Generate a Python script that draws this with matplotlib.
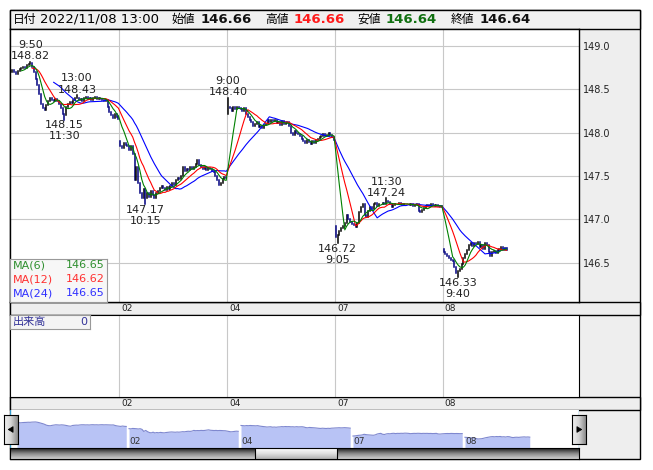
import numpy as np
import pandas as pd
import matplotlib
matplotlib.use("Agg")
import matplotlib.pyplot as plt
from matplotlib.patches import Rectangle, Polygon
from matplotlib.colors import LinearSegmentedColormap
from matplotlib.transforms import offset_copy

plt.rcParams['font.family'] = ['DejaVu Sans', 'Noto Sans CJK JP']

# 5 minute closes, one list per trading day (11/08 stops at 13:00)
day_names = ["01", "02", "04", "07", "08"]
close_01 = [148.72, 148.70, 148.68, 148.71, 148.73, 148.74, 148.76, 148.75, 148.78, 148.79,
            148.80, 148.76, 148.70, 148.62, 148.55, 148.45, 148.33, 148.28, 148.26, 148.32,
            148.36, 148.40, 148.38, 148.36, 148.39, 148.37, 148.33, 148.28, 148.22, 148.20,
            148.30, 148.33, 148.35, 148.34, 148.38, 148.40, 148.40, 148.38, 148.39, 148.37,
            148.40, 148.41, 148.39, 148.40, 148.38, 148.40, 148.41, 148.39, 148.40, 148.39,
            148.38, 148.37, 148.38, 148.30, 148.24, 148.20, 148.17, 148.22, 148.18, 148.16]
close_02 = [147.85, 147.82, 147.88, 147.86, 147.84, 147.80, 147.84, 147.75, 147.45, 147.60,
            147.42, 147.30, 147.25, 147.35, 147.24, 147.30, 147.26, 147.32, 147.28, 147.25,
            147.30, 147.33, 147.36, 147.38, 147.36, 147.34, 147.37, 147.35, 147.38, 147.42,
            147.40, 147.45, 147.48, 147.46, 147.50, 147.60, 147.56, 147.58, 147.57, 147.60,
            147.58, 147.60, 147.64, 147.68, 147.62, 147.60, 147.58, 147.60, 147.57, 147.59,
            147.58, 147.56, 147.55, 147.50, 147.45, 147.40, 147.42, 147.46, 147.49, 147.47]
close_04 = [148.30, 148.28, 148.25, 148.29, 148.27, 148.30, 148.28, 148.27, 148.25, 148.28,
            148.22, 148.18, 148.15, 148.12, 148.08, 148.10, 148.12, 148.06, 148.08, 148.05,
            148.09, 148.10, 148.14, 148.12, 148.15, 148.13, 148.14, 148.11, 148.12, 148.09,
            148.13, 148.10, 148.11, 148.12, 148.08, 148.00, 147.97, 148.02, 148.00, 147.98,
            147.96, 147.93, 147.90, 147.88, 147.91, 147.89, 147.87, 147.90, 147.88, 147.92,
            147.93, 147.95, 147.96, 147.98, 147.96, 147.97, 147.99, 147.97, 147.95, 147.92]
close_07 = [146.80, 146.82, 146.86, 146.90, 146.92, 146.96, 147.05, 147.00, 146.97, 146.95,
            146.93, 146.91, 146.96, 147.08, 147.14, 147.18, 147.05, 147.02, 147.10, 147.14,
            147.12, 147.17, 147.19, 147.15, 147.18, 147.17, 147.19, 147.18, 147.21, 147.20,
            147.18, 147.14, 147.16, 147.18, 147.17, 147.19, 147.18, 147.16, 147.18, 147.17,
            147.18, 147.16, 147.17, 147.15, 147.16, 147.18, 147.10, 147.08, 147.11, 147.13,
            147.15, 147.16, 147.15, 147.17, 147.16, 147.15, 147.16, 147.15, 147.14, 147.15]
close_08 = [146.62, 146.60, 146.58, 146.55, 146.53, 146.52, 146.45, 146.38, 146.40, 146.42,
            146.48, 146.55, 146.60, 146.65, 146.70, 146.72, 146.69, 146.73, 146.71, 146.74,
            146.68, 146.70, 146.66, 146.72, 146.70, 146.62, 146.58, 146.62, 146.63, 146.61,
            146.64, 146.66, 146.68, 146.65, 146.67, 146.64]
day_open = [148.70, 147.90, 148.22, 146.92, 146.66]

# highs / lows written on the chart
mark_bar = [10, 29, 36, 74, 120, 181, 208, 248]
mark_price = [148.82, 148.15, 148.43, 147.17, 148.40, 146.72, 147.24, 146.33]
mark_time = ["9:50", "11:30", "13:00", "10:15", "9:00", "9:05", "11:30", "9:40"]
mark_high = [True, False, True, False, True, False, True, False]

hdr_date = "2022/11/08 13:00"
hdr_ohlc = [146.66, 146.66, 146.64, 146.64]   # open high low close
ma_periods = [6, 12, 24]
ma_last = [146.65, 146.62, 146.65]
volume_last = 0
price_ticks = [146.5, 147.0, 147.5, 148.0, 148.5, 149.0]

W, H = 653, 470
GRAY = '#eeeeee'
GRID = '#c8c8c8'
ma_colors = ['#008000', '#ff0000', '#0000ff']
ma_text = ['#2f8f2f', '#ff3030', '#3030ff']

day_lists = [close_01, close_02, close_04, close_07, close_08]
closes = np.array(sum(day_lists, []))
day_len = [len(d) for d in day_lists]
day_start = np.cumsum([0] + day_len[:-1])
n = len(closes)
bars = np.arange(n)

opens = np.empty(n)
opens[1:] = closes[:-1]
opens[day_start] = day_open
highs = np.maximum(opens, closes)
lows = np.minimum(opens, closes)
for b, p, hi in zip(mark_bar, mark_price, mark_high):
    if hi:
        highs[b] = max(highs[b], p)
    else:
        lows[b] = min(lows[b], p)

fig = plt.figure(figsize=(W / 100, H / 100), dpi=100)


def px_axes(x0, y0, x1, y1, **kw):
    return fig.add_axes([x0 / W, 1 - y1 / H, (x1 - x0) / W, (y1 - y0) / H], **kw)


# frame, header, strips, right panel
bg = px_axes(0, 0, W, H)
bg.set_xlim(0, W)
bg.set_ylim(H, 0)
bg.axis('off')
bg.add_patch(Rectangle((10, 10), 630, 449, fc=GRAY, ec='black', lw=1))
bg.add_patch(Rectangle((10, 10), 630, 19, fc='#f0f0f0', ec='black', lw=1))
for y0, y1 in [(302, 315), (397, 410)]:
    bg.add_patch(Rectangle((10, y0), 630, y1 - y0, fc=GRAY, ec='black', lw=1))

hy = 19.5
bg.text(13, hy, "日付", fontsize=8.5, va='center')
bg.text(40, hy, hdr_date, fontsize=9.5, va='center')
hdr_names = ["始値", "高値", "安値", "終値"]
hdr_colors = ['#111111', '#ff1a1a', '#107010', '#111111']
hdr_x = [172, 265, 357, 451]
for name, val, col, x in zip(hdr_names, hdr_ohlc, hdr_colors, hdr_x):
    bg.text(x, hy, name, fontsize=8.5, va='center')
    bg.text(x + 29, hy, f"{val:.2f}", fontsize=9.5, fontweight='bold', color=col, va='center')

# main price panel
xlim = (-1.3, 315.3)
bounds = day_start[1:] - 0.5
ax = px_axes(10, 29, 579, 302)
ax.set_xlim(*xlim)
ax.set_ylim(146.044, 149.196)
for yv in price_ticks:
    ax.axhline(yv, color=GRID, lw=0.8, zorder=0)
for xb in bounds:
    ax.axvline(xb, color=GRID, lw=0.8, zorder=0)

up = closes >= opens
lc = ax.vlines(bars, lows, highs, colors=np.where(up, '#000000', '#000080'), lw=1.1, zorder=2)
lc.set_capstyle('projecting')
for per, col in reversed(list(zip(ma_periods, ma_colors))):
    ma = pd.Series(closes).rolling(per).mean()
    ax.plot(bars, ma, color=col, lw=0.8, zorder=3)

for b, p, t, hi in zip(mark_bar, mark_price, mark_time, mark_high):
    if hi:
        ax.annotate(f"{t}\n{p:.2f}", (b, p), xytext=(0, 0.5), textcoords='offset points',
                    ha='center', va='bottom', fontsize=8, color='#222222', linespacing=1.15)
    else:
        ax.annotate(f"{p:.2f}\n{t}", (b, p), xytext=(0, -0.5), textcoords='offset points',
                    ha='center', va='top', fontsize=8, color='#222222', linespacing=1.15)

ax.yaxis.tick_right()
ax.set_yticks(price_ticks)
ax.set_yticklabels([f"{v:.1f}" for v in price_ticks])
ax.tick_params(axis='y', length=0, pad=3, labelsize=7, labelcolor='#222222')
ax.set_xticks([])
for s in ax.spines.values():
    s.set_linewidth(1)

lab_tr = offset_copy(ax.get_xaxis_transform(), fig=fig, x=2, y=0, units='dots')
for xb, name in zip(bounds, day_names[1:]):
    ax.text(xb, -6.5 / 273, name, transform=lab_tr, fontsize=6.5, va='center', ha='left',
            color='#222222', clip_on=False)

# MA legend box
lg = px_axes(10, 259, 107, 302)
lg.set_facecolor('#f7f7f7')
lg.set_xticks([])
lg.set_yticks([])
for s in lg.spines.values():
    s.set_edgecolor('#999999')
for i, (per, val, col) in enumerate(zip(ma_periods, ma_last, ma_text)):
    yy = 1 - (6.5 + i * 14) / 43
    lg.text(0.03, yy, f"MA({per})", color=col, fontsize=8, va='center', transform=lg.transAxes)
    lg.text(0.98, yy, f"{val:.2f}", color=col, fontsize=8, va='center', ha='right',
            transform=lg.transAxes)

# volume panel
vax = px_axes(10, 315, 579, 397)
vax.set_xlim(*xlim)
vax.set_ylim(0, 1)
for xb in bounds:
    vax.axvline(xb, color=GRID, lw=0.8, zorder=0)
vax.set_xticks([])
vax.set_yticks([])
vlab_tr = offset_copy(vax.get_xaxis_transform(), fig=fig, x=2, y=0, units='dots')
for xb, name in zip(bounds, day_names[1:]):
    vax.text(xb, -6.5 / 82, name, transform=vlab_tr, fontsize=6.5, va='center', ha='left',
             color='#222222', clip_on=False)

vl = px_axes(10, 315, 90, 329)
vl.set_facecolor('#f4f4f4')
vl.set_xticks([])
vl.set_yticks([])
for s in vl.spines.values():
    s.set_edgecolor('#999999')
vl.text(0.03, 0.5, "出来高", color='#333399', fontsize=8, va='center', transform=vl.transAxes)
vl.text(0.96, 0.5, f"{volume_last}", color='#333399', fontsize=8, va='center', ha='right',
        transform=vl.transAxes)

# navigator
nav = px_axes(10, 410, 579, 448)
nav.set_xlim(-3.8, 303.6)
nav.set_ylim(145.1, 150.5)
nav_x = bars + 0.5 * np.repeat(np.arange(len(day_len)), day_len)
for d in range(len(day_len)):
    seg = slice(day_start[d], day_start[d] + day_len[d])
    nav.fill_between(nav_x[seg], closes[seg], 145.0, color='#b8c3f5', lw=0)
    nav.plot(nav_x[seg], closes[seg], color='#7f88cf', lw=0.8)
    if d > 0:
        nav.text(nav_x[day_start[d]], 0.18, day_names[d], transform=nav.get_xaxis_transform(),
                 fontsize=6.5, va='center', ha='left', color='#333333')
nav.set_xticks([])
nav.set_yticks([])
for s in nav.spines.values():
    s.set_visible(False)
nav.axvline(-3.8, color='#3399cc', lw=1)
nav.axvline(303.6, color='#3399cc', lw=1)

# scroll bar
sb = px_axes(10, 448, 579, 459)
grad = np.linspace(0, 1, 50).reshape(-1, 1)
sb.imshow(grad, extent=(0, 1, 0, 1), aspect='auto',
          cmap=LinearSegmentedColormap.from_list('sb', ['#1a1a1a', '#8a8a8a', '#d0d0d0']))
sb.imshow(grad, extent=((255 - 10) / 569, (337 - 10) / 569, 0, 1), aspect='auto',
          cmap=LinearSegmentedColormap.from_list('th', ['#fdfdfd', '#e0e0e0', '#b0b0b0']))
sb.plot([(255 - 10) / 569] * 2, [0, 1], color='black', lw=0.8)
sb.plot([(337 - 10) / 569] * 2, [0, 1], color='black', lw=0.8)
sb.set_xlim(0, 1)
sb.set_ylim(0, 1)
sb.set_xticks([])
sb.set_yticks([])

# arrow buttons
hgrad = np.linspace(0, 1, 30).reshape(1, -1)
for x0, pts in [(4, [(0.65, 0.4), (0.65, 0.6), (0.3, 0.5)]),
                (572, [(0.35, 0.4), (0.35, 0.6), (0.7, 0.5)])]:
    bt = px_axes(x0, 415, x0 + 14, 444)
    bt.imshow(hgrad, extent=(0, 1, 0, 1), aspect='auto',
              cmap=LinearSegmentedColormap.from_list('bt', ['#f2f2f2', '#d4d4d4', '#8c8c8c']))
    bt.add_patch(Polygon(pts, closed=True, fc='black', ec='black', lw=0.5))
    bt.set_xlim(0, 1)
    bt.set_ylim(0, 1)
    bt.set_xticks([])
    bt.set_yticks([])

fig.savefig('out.png', dpi=100)
